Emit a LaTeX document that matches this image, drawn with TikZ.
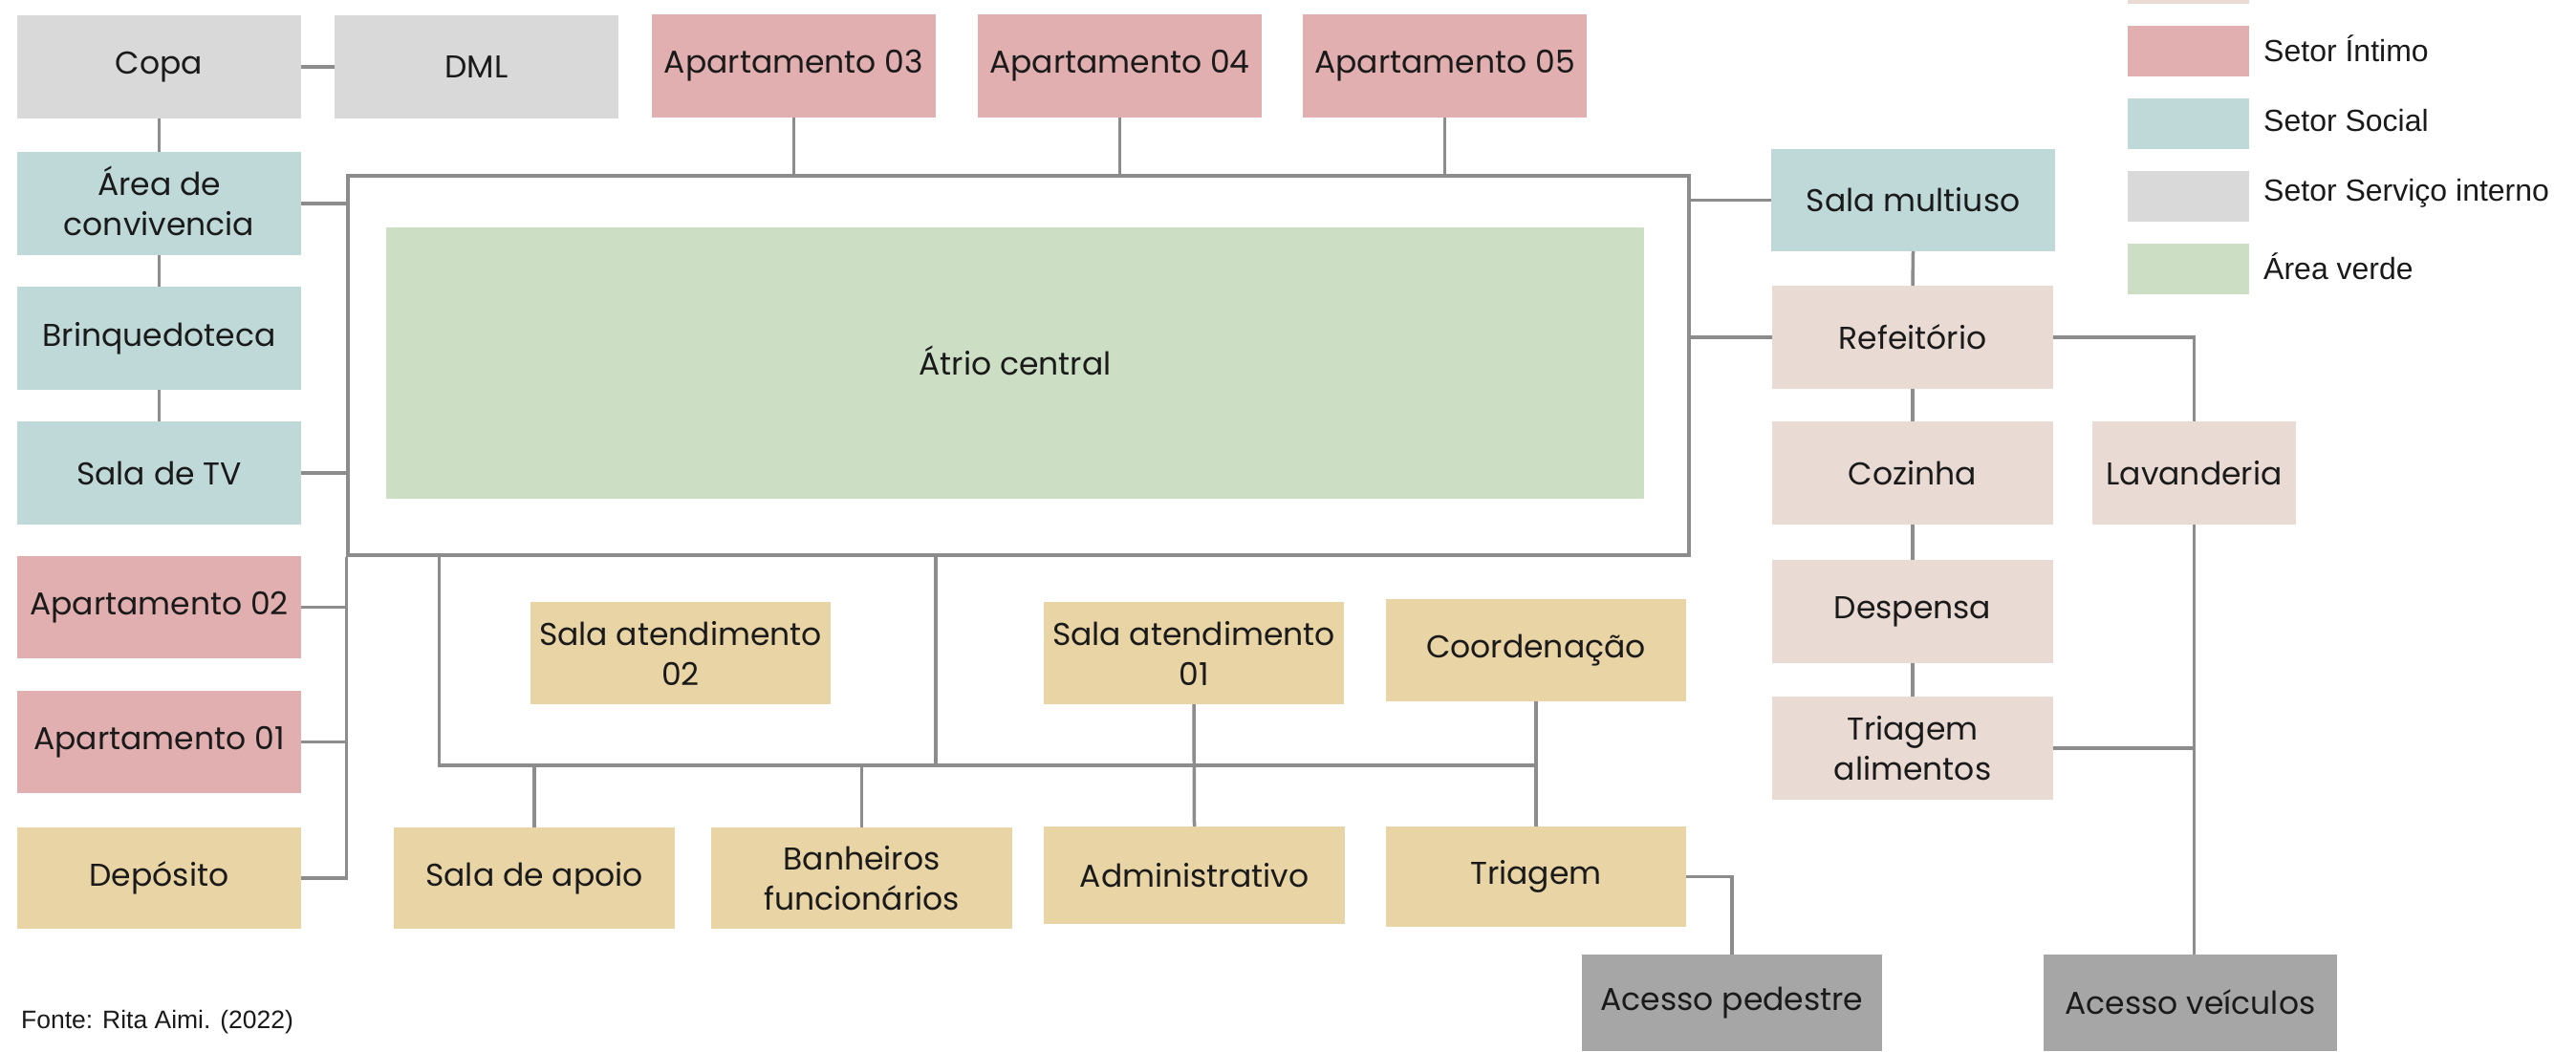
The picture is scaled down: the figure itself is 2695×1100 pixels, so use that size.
\documentclass[tikz,border=0pt]{standalone}
\usepackage{fontspec}
\setmainfont{Poppins}
\newfontfamily\legfont{Liberation Sans}
\definecolor{pinkc}{HTML}{E1AFAF}
\definecolor{socialc}{HTML}{BFD9D8}
\definecolor{servc}{HTML}{D9D9D9}
\definecolor{greenc}{HTML}{CCDFC4}
\definecolor{beigec}{HTML}{E9DBD4}
\definecolor{yellowc}{HTML}{E8D4A4}
\definecolor{accessc}{HTML}{A6A6A6}
\definecolor{linec}{HTML}{8C8C8C}
\definecolor{txtc}{HTML}{1A1A1A}
\newcommand\bx[7]{\node[box, fill=#6, minimum width={(#4-#2)*1pt}, minimum height={(#5-#3)*1pt}] (#1) at ({(#2+#4)/2},{(#3+#5)/2}) {#7};}
\begin{document}
\begin{tikzpicture}[x=1pt,y=-1pt,
  box/.style={rectangle, inner sep=0pt, align=center, text=txtc, font=\fontsize{33}{42}\selectfont},
  conn/.style={draw=linec, line width=3.5pt},
  swatch/.style={rectangle, inner sep=0pt, minimum width=127pt, minimum height=53pt},
  legtext/.style={anchor=west, inner sep=0pt, text=txtc, font=\legfont\fontsize{32}{36}\selectfont}]
\clip (0,0) rectangle (2695,1100);
\fill[white] (0,0) rectangle (2695,1100);
% frame and atrium
\node[draw=linec, line width=3.5pt, fill=white, rectangle, inner sep=0pt, minimum width=1403pt, minimum height=397pt] (frame) at (1065.5,382.5) {};
\bx{atrio}{404}{238}{1720}{522}{greenc}{\smash{Á}trio central}
% left column
\bx{copa}{18}{16}{315}{124}{servc}{Copa}
\bx{dml}{350}{16}{647}{124}{servc}{DML}
\bx{conv}{18}{159}{315}{267}{socialc}{\smash{Á}rea de\\convivencia}
\bx{brinq}{18}{300}{315}{408}{socialc}{Brinquedoteca}
\bx{tv}{18}{441}{315}{549}{socialc}{Sala de TV}
\bx{apt2}{18}{582}{315}{689}{pinkc}{Apartamento 02}
\bx{apt1}{18}{723}{315}{830}{pinkc}{Apartamento 01}
\bx{dep}{18}{866}{315}{972}{yellowc}{Depósito}
% top row
\bx{apt3}{682}{15}{979}{123}{pinkc}{Apartamento 03}
\bx{apt4}{1023}{15}{1320}{123}{pinkc}{Apartamento 04}
\bx{apt5}{1363}{15}{1660}{123}{pinkc}{Apartamento 05}
% bottom group
\bx{sat2}{555}{630}{869}{737}{yellowc}{Sala atendimento\\02}
\bx{sat1}{1092}{630}{1406}{737}{yellowc}{Sala atendimento\\01}
\bx{coord}{1450}{627}{1764}{734}{yellowc}{Coordenação}
\bx{apoio}{412}{866}{706}{972}{yellowc}{Sala de apoio}
\bx{banh}{744}{866}{1059}{972}{yellowc}{Banheiros\\funcionários}
\bx{adm}{1092}{865}{1407}{967}{yellowc}{Administrativo}
\bx{triag}{1450}{865}{1764}{970}{yellowc}{Triagem}
\bx{ped}{1655}{999}{1969}{1100}{accessc}{Acesso pedestre}
% right column
\bx{multi}{1853}{156}{2150}{263}{socialc}{Sala multiuso}
\bx{refe}{1854}{299}{2148}{407}{beigec}{Refeitório}
\bx{cozi}{1854}{441}{2148}{549}{beigec}{Cozinha}
\bx{desp}{1854}{586}{2148}{694}{beigec}{Despensa}
\bx{trial}{1854}{729}{2148}{837}{beigec}{Triagem\\alimentos}
\bx{lava}{2189}{441}{2402}{549}{beigec}{Lavanderia}
\bx{veic}{2138}{999}{2445}{1100}{accessc}{Acesso ve\smash{í}culos}
% bus coordinates
\coordinate (busL) at (459.5,801);
\coordinate (busM) at (979,801);
\coordinate (busR) at (1607,801);
% connectors
\draw[conn] (copa.east) -- (dml.west);
\draw[conn] (copa.south) -- (conv.north);
\draw[conn] (conv.south) -- (brinq.north);
\draw[conn] (brinq.south) -- (tv.north);
\draw[conn] (conv.east) -- (conv.east -| frame.west);
\draw[conn] (tv.east) -- (tv.east -| frame.west);
\draw[conn] (apt2.east) -- (apt2.east -| frame.west);
\draw[conn] (apt1.east) -- (apt1.east -| frame.west);
\draw[conn] (dep.east) -| (frame.south west);
\draw[conn] (apt3.south) -- (apt3.south |- frame.north);
\draw[conn] (apt4.south) -- (apt4.south |- frame.north);
\draw[conn] (apt5.south) -- (apt5.south |- frame.north);
\draw[conn] (multi.west) -- (multi.west -| frame.east);
\draw[conn] (refe.west) -- (refe.west -| frame.east);
\draw[conn] (multi.south) -- (refe.north);
\draw[conn] (refe.south) -- (cozi.north);
\draw[conn] (cozi.south) -- (desp.north);
\draw[conn] (desp.south) -- (trial.north);
\draw[conn] (refe.east) -| (lava.north);
\draw[conn] (lava.south) -- (lava.south |- veic.north);
\draw[conn] (trial.east) -- (trial.east -| lava.south);
\draw[conn] (busL |- frame.south) -- (busL) -- (busR);
\draw[conn] (busM |- frame.south) -- (busM);
\draw[conn] (apoio.north) -- (apoio.north |- busL);
\draw[conn] (banh.north) -- (banh.north |- busL);
\draw[conn] (sat1.south) -- (adm.north);
\draw[conn] (coord.south) -- (triag.north);
\draw[conn] (triag.east) -| (ped.north);
% legend
\node[swatch, fill=beigec] (lg0) at (2289.5,-22.5) {};
\node[swatch, fill=pinkc] (lg1) at (2289.5,53.5) {};
\node[swatch, fill=socialc] (lg2) at (2289.5,129.5) {};
\node[swatch, fill=servc] (lg3) at (2289.5,205.5) {};
\node[swatch, fill=greenc] (lg4) at (2289.5,281.5) {};
\node[legtext] (lt1) at (2368,50.5) {Setor Íntimo};
\node[legtext] (lt2) at (2368,126.5) {Setor Social};
\node[legtext] (lt3) at (2368,202.5) {Setor Serviço interno};
\node[legtext] (lt4) at (2368,278.5) {Área verde};
% source
\node[anchor=base west, inner sep=0pt, text=txtc, font=\legfont\fontsize{26.5}{30}\selectfont] (fonte) at (22,1076) {Fonte: Rita Aimi. (2022)};
\end{tikzpicture}
\end{document}
